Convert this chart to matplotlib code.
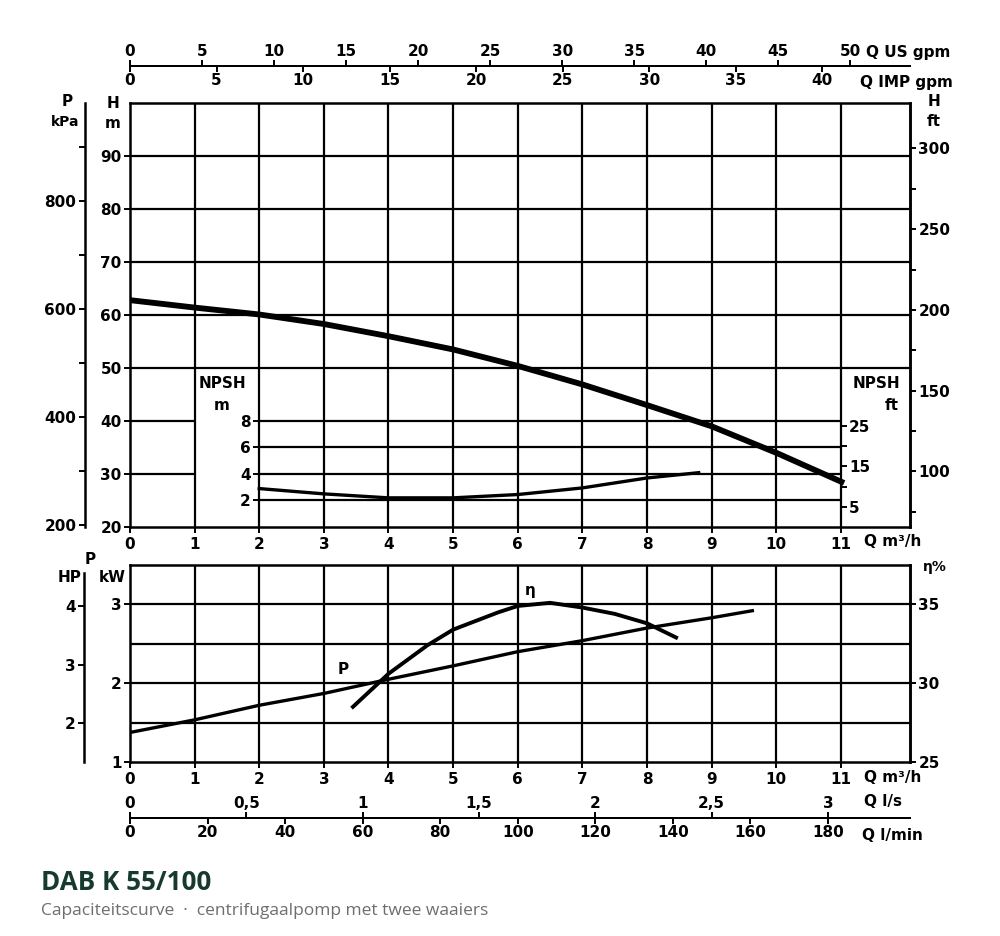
import numpy as np
import matplotlib
matplotlib.use("Agg")
import matplotlib.pyplot as plt
from matplotlib.ticker import FixedLocator, FuncFormatter, NullLocator

# curve data
q_head = [0, 1, 2, 3, 4, 5, 6, 7, 8, 9, 10, 11.05]          # m3/h
head_m = [62.8, 61.4, 60.1, 58.3, 56.0, 53.5, 50.4, 46.9, 43.0, 39.0, 34.0, 28.3]

q_npsh = [2, 3, 4, 5, 6, 7, 8, 8.8]
npsh_m = [2.9, 2.5, 2.2, 2.2, 2.45, 2.95, 3.7, 4.1]

q_power = [0, 1, 2, 3, 4, 5, 6, 7, 8, 9, 9.63]
power_kw = [1.375, 1.535, 1.72, 1.87, 2.05, 2.22, 2.40, 2.54, 2.70, 2.83, 2.92]

q_eff = [3.45, 4, 4.6, 5, 5.7, 6, 6.5, 7, 7.5, 8, 8.45]
eff_pct = [28.5, 30.6, 32.4, 33.4, 34.5, 34.9, 35.1, 34.8, 34.4, 33.8, 32.9]

# scale ticks
q_ticks = list(range(12))
h_ticks = [20, 30, 40, 50, 60, 70, 80, 90]
kpa_ticks = [200, 400, 600, 800]
kpa_minor = [300, 500, 700, 900]
hft_ticks = [100, 150, 200, 250, 300]
hft_minor = [75, 125, 175, 225, 275]
npsh_ticks = [2, 4, 6, 8]
npsh_ft_ticks = [5, 15, 25]
usgpm_ticks = list(range(0, 51, 5))
impgpm_ticks = list(range(0, 41, 5))
kw_ticks = [1, 2, 3]
hp_ticks = [2, 3, 4]
eff_ticks = [25, 30, 35]
ls_ticks = [0, 0.5, 1, 1.5, 2, 2.5, 3]
lmin_ticks = list(range(0, 181, 20))

# unit factors (gpm ones as printed on the sheet)
US_GPM = 4.486
IMP_GPM = 3.734
M_TO_FT = 3.281
KPA_PER_M = 9.81
KW_PER_HP = 0.7457
QMAX = 12.07

plt.rcParams['font.family'] = ['DejaVu Sans']
plt.rcParams['font.weight'] = 'bold'
plt.rcParams['font.size'] = 11
plt.rcParams['axes.linewidth'] = 1.8
for a in ('xtick', 'ytick'):
    plt.rcParams[a + '.major.width'] = 1.4
    plt.rcParams[a + '.minor.width'] = 1.4
    plt.rcParams[a + '.major.size'] = 4
    plt.rcParams[a + '.minor.size'] = 4
    plt.rcParams[a + '.major.pad'] = 2
    plt.rcParams[a + '.direction'] = 'out'
    plt.rcParams[a + '.labelsize'] = 11

fig = plt.figure(figsize=(10, 9.36), dpi=100)


def fx(px):
    return px / 1000


def fy(py):
    return 1 - py / 936


grid = dict(color='black', lw=1.6)

# ---------------- top panel: H, NPSH ----------------
ax1 = fig.add_axes([fx(130), fy(527), fx(910) - fx(130), fy(103) - fy(527)])
ax1.set_xlim(0, QMAX)
ax1.set_ylim(20, 100)
ax1.set_xticks(q_ticks)
ax1.set_yticks(h_ticks)
ax1.tick_params(axis='x', pad=3)
ax1.tick_params(right=False)
ax1.vlines(q_ticks[1:], 20, 100, **grid)
ax1.hlines([50, 60, 70, 80, 90], 0, QMAX, **grid)
ax1.hlines([30, 40], 0, 1, **grid)
ax1.plot(q_head, head_m, color='black', lw=4.2, solid_capstyle='butt')

ax_np = ax1.twinx()
ax_np.set_ylim(0, 32)
ax_np.yaxis.set_major_locator(NullLocator())
for s in ax_np.spines.values():
    s.set_visible(False)
ax_np.hlines(npsh_ticks, 2, 11, **grid)
ax_np.plot(q_npsh, npsh_m, color='black', lw=2.4)

kpa = ax1.secondary_yaxis(-0.058, functions=(lambda h: h * KPA_PER_M, lambda p: p / KPA_PER_M))
kpa.yaxis.set_major_locator(FixedLocator(kpa_ticks))
kpa.yaxis.set_minor_locator(FixedLocator(kpa_minor))

hft = ax1.secondary_yaxis('right', functions=(lambda h: h * M_TO_FT, lambda f: f / M_TO_FT))
hft.yaxis.set_major_locator(FixedLocator(hft_ticks))
hft.yaxis.set_minor_locator(FixedLocator(hft_minor))

npm = ax_np.secondary_yaxis(2 / QMAX)
npm.yaxis.set_major_locator(FixedLocator(npsh_ticks))
npm.spines['left'].set_visible(False)

npf = ax_np.secondary_yaxis(11 / QMAX, functions=(lambda n: n * M_TO_FT, lambda f: f / M_TO_FT))
npf.yaxis.set_major_locator(FixedLocator(npsh_ft_ticks))
npf.yaxis.set_minor_locator(FixedLocator([10, 20]))
npf.spines['right'].set_visible(False)

top_loc = 1 + (103 - 66) / (527 - 103)
us = ax1.secondary_xaxis(top_loc, functions=(lambda q: q * US_GPM, lambda g: g / US_GPM))
us.xaxis.set_major_locator(FixedLocator(usgpm_ticks))
us.spines['top'].set_linewidth(1.4)
imp = ax1.secondary_xaxis(top_loc, functions=(lambda q: q * IMP_GPM, lambda g: g / IMP_GPM))
imp.set_alignment('bottom')
imp.xaxis.set_major_locator(FixedLocator(impgpm_ticks))
imp.spines['bottom'].set_linewidth(1.4)
for sx in (us, imp):
    sx.tick_params(pad=1)

# ---------------- bottom panel: P, eta ----------------
ax2 = fig.add_axes([fx(130), fy(762), fx(910) - fx(130), fy(565) - fy(762)])
ax2.set_xlim(0, QMAX)
ax2.set_ylim(1, 3.5)
ax2.set_xticks(q_ticks)
ax2.set_yticks(kw_ticks)
ax2.tick_params(axis='x', pad=3)
ax2.tick_params(right=False)
ax2.vlines(q_ticks[1:], 1, 3.5, **grid)
ax2.hlines([1.5, 2, 2.5, 3], 0, QMAX, **grid)
ax2.plot(q_power, power_kw, color='black', lw=2.4)
ax2.text(3.3, 2.08, 'P', fontsize=11, ha='center', va='bottom')

ax_eta = ax2.twinx()
ax_eta.set_ylim(25, 37.5)
ax_eta.yaxis.set_major_locator(FixedLocator(eff_ticks))
for s in ('left', 'top', 'bottom'):
    ax_eta.spines[s].set_visible(False)
ax_eta.plot(q_eff, eff_pct, color='black', lw=2.8)
ax_eta.text(6.2, 35.9, 'η', fontsize=11, ha='center', va='center')

hp = ax2.secondary_yaxis(-0.059, functions=(lambda k: k / KW_PER_HP, lambda h: h * KW_PER_HP))
hp.yaxis.set_major_locator(FixedLocator(hp_ticks))
hp.spines['left'].set_bounds(1 / KW_PER_HP, 4.55)

bot_loc = -(818 - 762) / (762 - 565)
ls = ax2.secondary_xaxis(bot_loc, functions=(lambda q: q / 3.6, lambda v: v * 3.6))
ls.set_alignment('top')
ls.xaxis.set_major_locator(FixedLocator(ls_ticks))
ls.xaxis.set_major_formatter(FuncFormatter(lambda v, p: f"{v:g}".replace('.', ',')))
ls.spines['top'].set_linewidth(1.4)
lmin = ax2.secondary_xaxis(bot_loc, functions=(lambda q: q * 1000 / 60, lambda v: v * 60 / 1000))
lmin.xaxis.set_major_locator(FixedLocator(lmin_ticks))
lmin.spines['bottom'].set_linewidth(1.4)
for sx in (ls, lmin):
    sx.tick_params(pad=1)

# ---------------- unit labels ----------------
lab = dict(fontsize=11, ha='center', va='center')
fig.text(fx(67), fy(102), 'P', **lab)
fig.text(fx(65), fy(122), 'kPa', fontsize=10, ha='center', va='center')
fig.text(fx(113), fy(103), 'H', **lab)
fig.text(fx(113), fy(124), 'm', **lab)
fig.text(fx(934), fy(102), 'H', **lab)
fig.text(fx(934), fy(121), 'ft', **lab)
fig.text(fx(222), fy(383), 'NPSH', **lab)
fig.text(fx(222), fy(406), 'm', **lab)
fig.text(fx(876), fy(383), 'NPSH', **lab)
fig.text(fx(892), fy(406), 'ft', **lab)
fig.text(fx(866), fy(52), 'Q US gpm', fontsize=11, ha='left', va='center')
fig.text(fx(860), fy(83), 'Q IMP gpm', fontsize=11, ha='left', va='center')
fig.text(fx(864), fy(541), 'Q m³/h', fontsize=11, ha='left', va='center')
fig.text(fx(864), fy(778), 'Q m³/h', fontsize=11, ha='left', va='center')
fig.text(fx(864), fy(801), 'Q l/s', fontsize=11, ha='left', va='center')
fig.text(fx(862), fy(836), 'Q l/min', fontsize=11, ha='left', va='center')
fig.text(fx(70), fy(577), 'HP', **lab)
fig.text(fx(90), fy(560), 'P', **lab)
fig.text(fx(112), fy(577), 'kW', **lab)
fig.text(fx(935), fy(567), 'η%', fontsize=10, ha='center', va='center')

# ---------------- title ----------------
fig.text(fx(41), fy(890), 'DAB K 55/100', fontsize=18.7, fontweight='bold',
         color='#173a2e', family='Open Sans', va='baseline')
fig.text(fx(41), fy(915), 'Capaciteitscurve  ·  centrifugaalpomp met twee waaiers',
         fontsize=12.5, fontweight='normal', color='#6b6f6d', family='Open Sans', va='baseline')

fig.savefig('out.png', dpi=100)
